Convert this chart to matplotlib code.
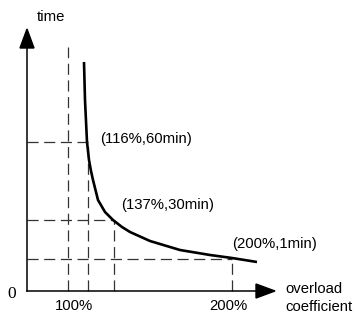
import matplotlib.pyplot as plt
from matplotlib.patches import Polygon

plt.rcParams['font.family'] = ['Liberation Sans', 'DejaVu Sans']
plt.rcParams['lines.scale_dashes'] = False

# schematic units: origin at the axes corner, 1 unit ~ 1 px
curve_x = [57, 58, 59, 60, 62, 64, 66, 71, 78, 86, 95, 103, 123, 153, 183, 205, 230]
curve_y = [229, 191, 170, 149, 131, 120, 111, 91, 79, 71, 64, 59, 50, 41, 36, 33, 29]

tick_labels = ['100%', '200%']
tick_x = [47, 201]
guide_x = [41, 61, 87, 205]          # 100%, 116%, 137%, 200%
guide_top = [244, 149, 71, 32]
point_labels = ['(116%,60min)', '(137%,30min)', '(200%,1min)']
point_y = [149, 71, 32]
point_x = [61, 87, 205]
label_pos = [(73, 152), (94, 86), (205, 47)]

fs = 10.7

fig = plt.figure(figsize=(3.55, 3.22), dpi=100)
ax = fig.add_axes([0, 0, 1, 1])
ax.set_xlim(-27, 328)
ax.set_ylim(-31, 291)
ax.axis('off')

dash = dict(color='#333333', lw=0.9, dashes=(8, 4))
for gx, gt in zip(guide_x, guide_top):
    ax.plot([gx, gx], [0, gt], **dash)
for px, py in zip(point_x, point_y):
    ax.plot([0, px], [py, py], **dash)

ax.plot(curve_x, curve_y, color='black', lw=1.9, solid_capstyle='butt')

# axes with arrow heads
ax.plot([0, 0], [0, 244], color='black', lw=1.1)
ax.plot([0, 229], [0, 0], color='black', lw=1.1)
ax.add_patch(Polygon([[-7, 243], [7, 243], [0, 262]], closed=True, color='black'))
ax.add_patch(Polygon([[229, -7], [229, 7], [248, 0]], closed=True, color='black'))

ax.text(24, 274, 'time', fontsize=fs, ha='center', va='center')
ax.text(-15, -3, '0', fontsize=12.5, ha='center', va='center', family='Liberation Serif')
for lab, tx in zip(tick_labels, tick_x):
    ax.text(tx, -15, lab, fontsize=fs, ha='center', va='center')
ax.text(258, 2, 'overload', fontsize=fs, ha='left', va='center')
ax.text(258, -16, 'coefficient', fontsize=fs, ha='left', va='center')

for lab, (lx, ly) in zip(point_labels, label_pos):
    ax.text(lx, ly, lab, fontsize=fs, ha='left', va='center')

fig.savefig('out.png', dpi=100)
